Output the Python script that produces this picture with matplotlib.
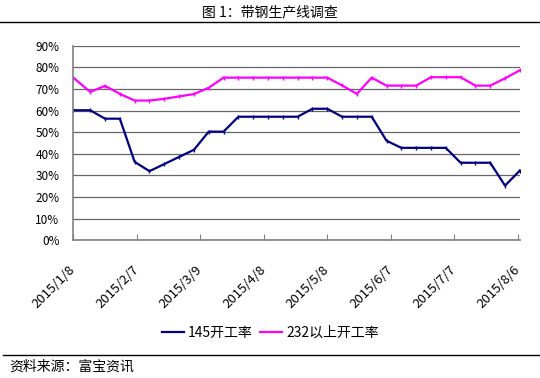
import pandas as pd
import matplotlib
matplotlib.use('Agg')
import matplotlib.pyplot as plt
from matplotlib.ticker import FuncFormatter
from matplotlib.lines import Line2D

plt.rcParams['font.family'] = ['Noto Sans CJK SC', 'DejaVu Sans']

# weekly survey dates (first point 1/8, then Fridays)
dates = ['2015-01-08'] + [d.strftime('%Y-%m-%d') for d in pd.date_range('2015-01-16', '2015-08-07', freq='7D')]

# 145 line utilisation, %
rate_145 = [60.2, 60.2, 56.3, 56.3, 36.3, 32.0, 35.3, 38.6, 41.9, 50.3, 50.3,
            57.2, 57.2, 57.2, 57.2, 57.2, 60.9, 60.9, 57.2, 57.2, 57.2,
            46.1, 42.8, 42.8, 42.8, 42.8, 35.9, 35.9, 35.9, 25.3, 32.3]

# 232+ line utilisation, %
rate_232 = [75.3, 68.7, 71.5, 67.8, 64.7, 64.7, 65.5, 66.6, 67.7, 70.6, 75.3,
            75.3, 75.3, 75.3, 75.3, 75.3, 75.3, 75.3, 71.7, 67.8, 75.3,
            71.6, 71.6, 71.6, 75.5, 75.5, 75.5, 71.6, 71.6, 75.0, 78.7]

tick_dates = ['2015-01-08', '2015-02-07', '2015-03-09', '2015-04-08',
              '2015-05-08', '2015-06-07', '2015-07-07', '2015-08-06']
tick_labels = ['2015/1/8', '2015/2/7', '2015/3/9', '2015/4/8',
               '2015/5/8', '2015/6/7', '2015/7/7', '2015/8/6']

x = pd.to_datetime(dates)

fig = plt.figure(figsize=(5.4, 3.78), dpi=100)
ax = fig.add_axes([0.1357, 0.3643, 0.827, 0.5143])

ax.plot(x, rate_145, color='#000080', lw=1.6, marker='|', markersize=2.5, label='145开工率')
ax.plot(x, rate_232, color='#FF00FF', lw=1.6, marker='|', markersize=2.5, label='232以上开工率')

ax.set_ylim(0, 90)
ax.set_yticks(range(0, 91, 10))
ax.yaxis.set_major_formatter(FuncFormatter(lambda v, p: f'{int(v)}%'))
ax.set_xlim(x[0], x[-1])
ax.set_xticks(pd.to_datetime(tick_dates))
ax.set_xticklabels(tick_labels, rotation=45, ha='right', va='center', rotation_mode='anchor',
                   fontsize=9.5)

ax.grid(axis='y', color='#666666', lw=0.9)
ax.set_axisbelow(True)
for s in ['top', 'right']:
    ax.spines[s].set_visible(False)
for s in ['left', 'bottom']:
    ax.spines[s].set_color('#808080')
    ax.spines[s].set_linewidth(1.2)

ax.tick_params(axis='y', length=0, pad=10, labelsize=8.5, colors='#000000')
ax.tick_params(axis='x', direction='in', length=4, color='#808080', pad=20)

handles = [Line2D([], [], color='#000080', lw=1.6), Line2D([], [], color='#FF00FF', lw=1.6)]
fig.legend(handles, ['145开工率', '232以上开工率'], loc='center', bbox_to_anchor=(0.5, 0.119),
           ncol=2, frameon=False, fontsize=10, handlelength=1.6, handletextpad=0.3, columnspacing=0.5)

fig.text(0.5, 0.968, '图 1：带钢生产线调查', ha='center', va='center', fontsize=10)
fig.add_artist(Line2D([0, 1], [1 - 22 / 378, 1 - 22 / 378], color='black', lw=1))
fig.add_artist(Line2D([0.005, 1], [1 - 355 / 378, 1 - 355 / 378], color='black', lw=1))
fig.text(0.018, 1 - 367 / 378, '资料来源：富宝资讯', ha='left', va='center', fontsize=10)

fig.savefig('out.png', dpi=100)
